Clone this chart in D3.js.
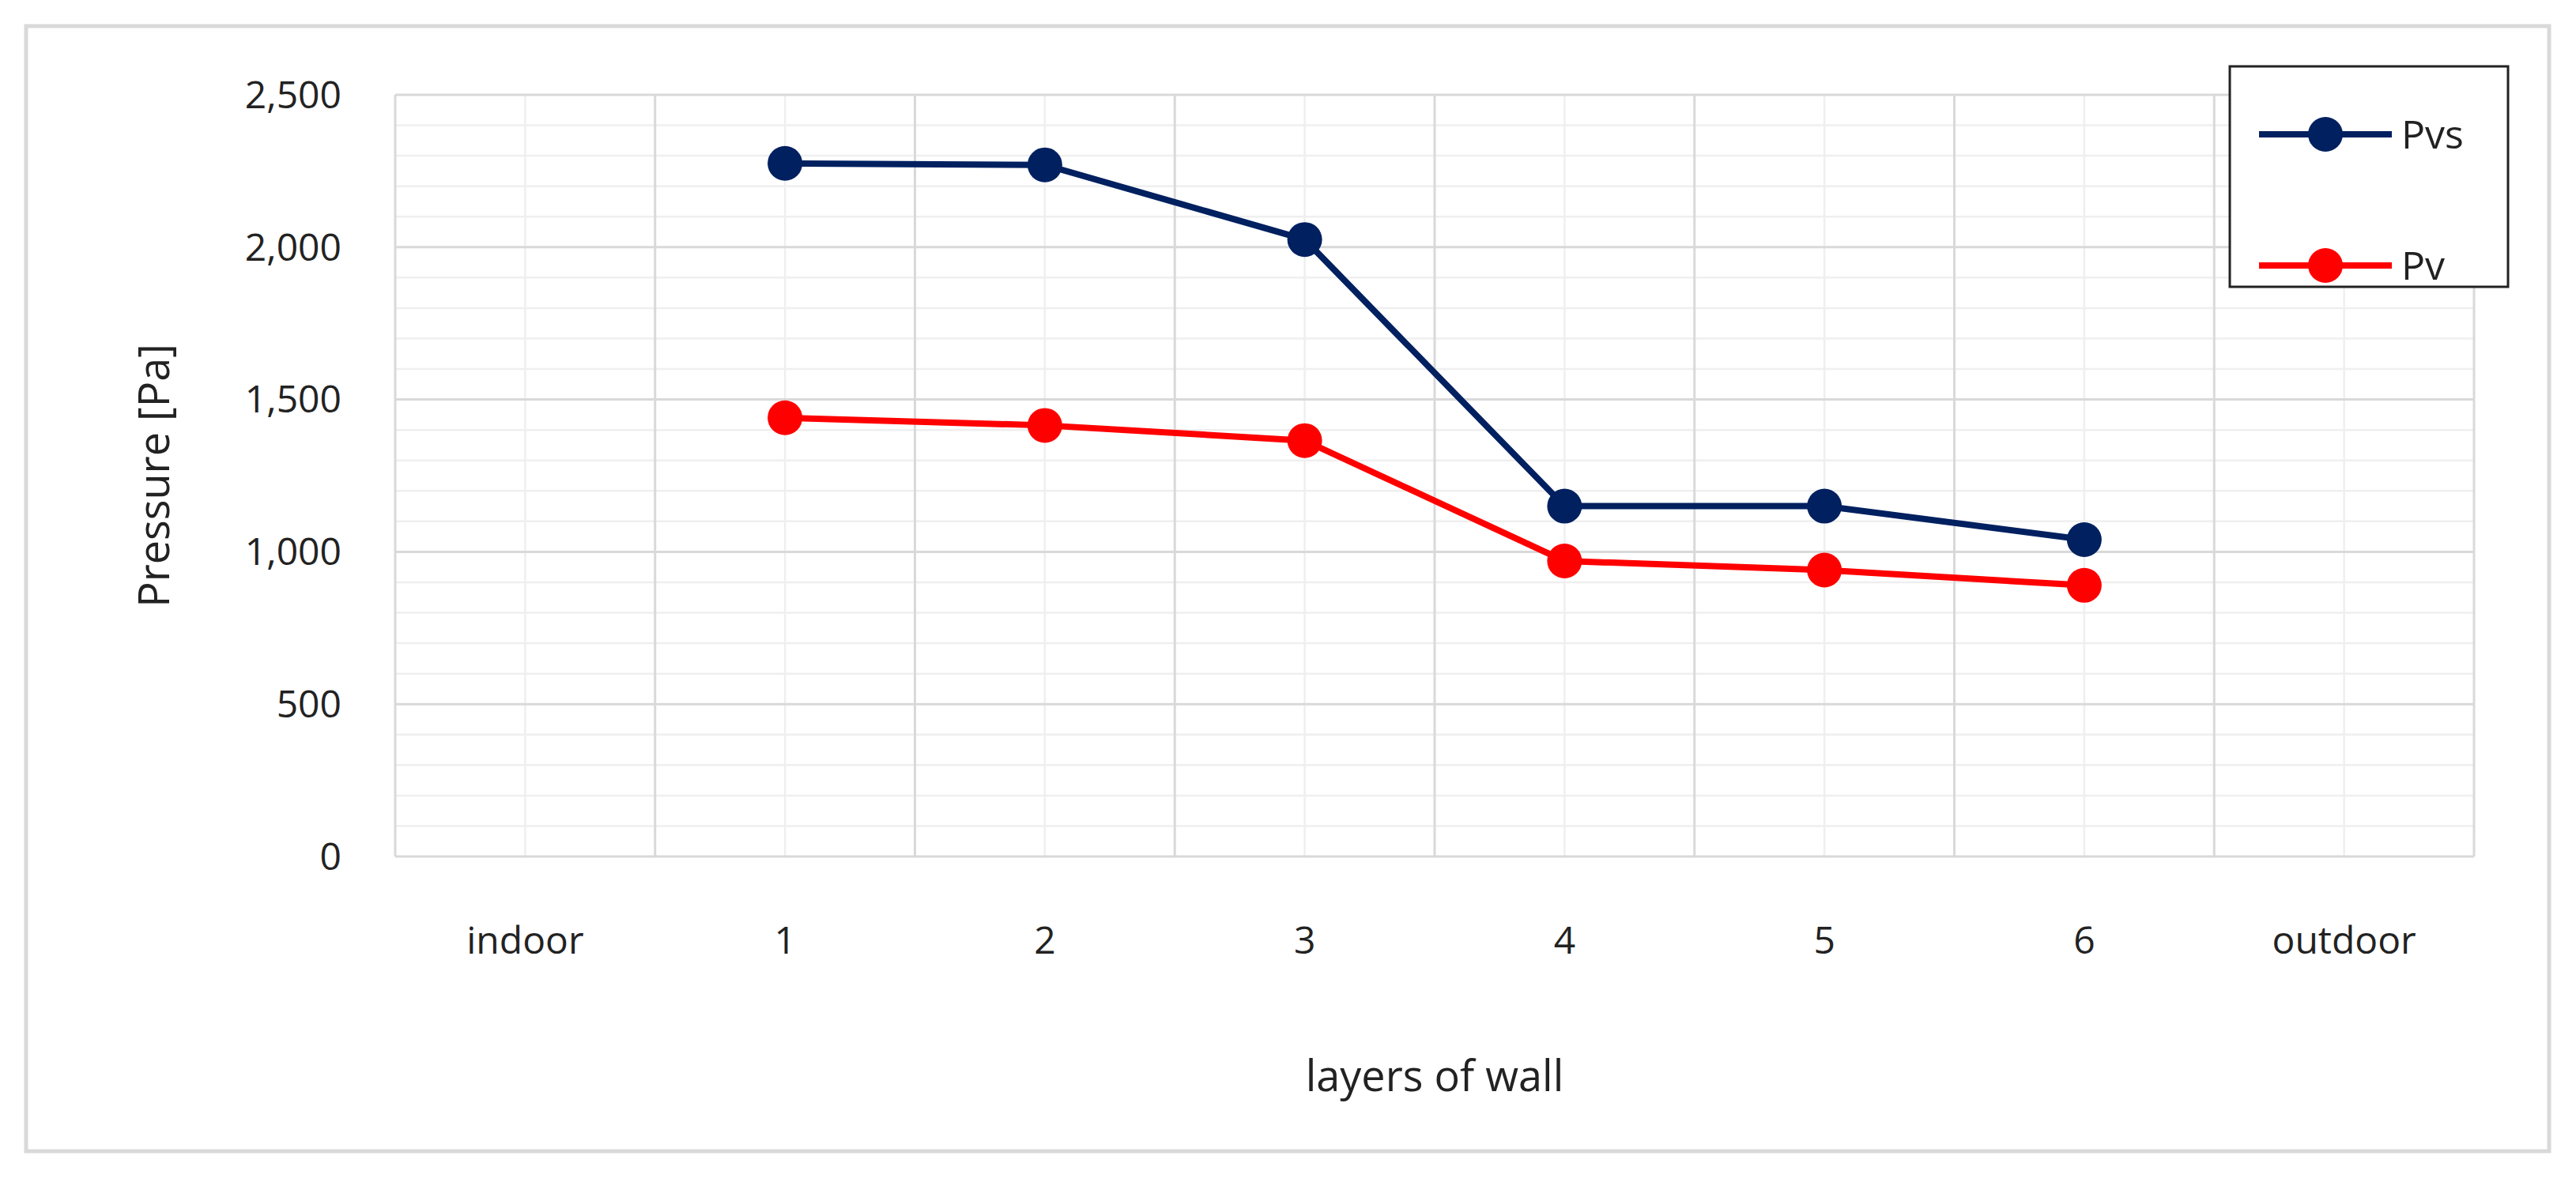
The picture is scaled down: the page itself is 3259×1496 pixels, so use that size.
<!DOCTYPE html>
<html lang="en">
<head>
  <meta charset="UTF-8">
  <script src="https://cdn.jsdelivr.net/npm/d3@7/dist/d3.min.js"></script>
  <style>
    body { margin: 0; background: #fff; }
    text { font-family: "Open Sans", sans-serif; fill: #222; }
  </style>
</head>
<body>
  <svg id="chart" width="3259" height="1496"></svg>
  <script>
    // data
    const categories = ["indoor", "1", "2", "3", "4", "5", "6", "outdoor"];
    const pvsValues = [null, 2275, 2270, 2025, 1150, 1150, 1040, null];
    const pvValues = [null, 1440, 1415, 1365, 970, 940, 890, null];
    const yTicks = [0, 500, 1000, 1500, 2000, 2500];

    const svg = d3.select("#chart");
    const plotLeft = 500, plotRight = 3130, plotTop = 120, plotBottom = 1084;

    // outer frame
    svg.append("rect").attr("x", 33).attr("y", 33).attr("width", 3192).attr("height", 1424)
      .attr("fill", "#fff").attr("stroke", "#d9d9d9").attr("stroke-width", 5);

    const x = d3.scaleBand().domain(categories).range([plotLeft, plotRight]);
    const y = d3.scaleLinear().domain([0, 2500]).range([plotBottom, plotTop]);

    const grid = svg.append("g");
    // minor horizontal lines
    grid.selectAll(".minor").data(d3.range(0, 2501, 100).filter(v => v % 500 != 0))
      .enter().append("line")
      .attr("x1", plotLeft).attr("x2", plotRight)
      .attr("y1", d => y(d)).attr("y2", d => y(d))
      .attr("stroke", "#efefef").attr("stroke-width", 2.5);
    // minor vertical lines at category centres
    grid.selectAll(".vminor").data(categories).enter().append("line")
      .attr("x1", d => x(d) + x.bandwidth() / 2).attr("x2", d => x(d) + x.bandwidth() / 2)
      .attr("y1", plotTop).attr("y2", plotBottom)
      .attr("stroke", "#efefef").attr("stroke-width", 2.5);
    // major horizontal lines
    grid.selectAll(".major").data(yTicks).enter().append("line")
      .attr("x1", plotLeft).attr("x2", plotRight)
      .attr("y1", d => y(d)).attr("y2", d => y(d))
      .attr("stroke", "#d9d9d9").attr("stroke-width", 3);
    // major vertical lines at band edges
    grid.selectAll(".vmajor").data(categories.concat(["end"])).enter().append("line")
      .attr("x1", (d, i) => plotLeft + i * x.bandwidth()).attr("x2", (d, i) => plotLeft + i * x.bandwidth())
      .attr("y1", plotTop).attr("y2", plotBottom)
      .attr("stroke", "#d9d9d9").attr("stroke-width", 3);

    // y tick labels
    svg.append("g").selectAll("text").data(yTicks).enter().append("text")
      .attr("x", 432).attr("y", d => y(d)).attr("dy", "0.35em")
      .attr("text-anchor", "end").attr("font-size", 48)
      .text(d => d3.format(",")(d));

    // x tick labels
    svg.append("g").selectAll("text").data(categories).enter().append("text")
      .attr("x", d => x(d) + x.bandwidth() / 2).attr("y", 1190).attr("dy", "0.35em")
      .attr("text-anchor", "middle").attr("font-size", 48)
      .text(d => d);

    // axis titles
    svg.append("text").attr("transform", "translate(195," + (plotTop + plotBottom) / 2 + ") rotate(-90)")
      .attr("text-anchor", "middle").attr("dy", "0.35em").attr("font-size", 54).text("Pressure [Pa]");
    svg.append("text").attr("x", (plotLeft + plotRight) / 2).attr("y", 1362).attr("dy", "0.35em")
      .attr("text-anchor", "middle").attr("font-size", 54).text("layers of wall");

    const series = [
      { name: "Pvs", values: pvsValues, color: "#002060" },
      { name: "Pv", values: pvValues, color: "#ff0000" }
    ];
    const line = d3.line()
      .defined(d => d.v != null)
      .x(d => x(d.c) + x.bandwidth() / 2).y(d => y(d.v));

    series.forEach(s => {
      const pts = categories.map((c, i) => ({ c: c, v: s.values[i] }));
      svg.append("path").datum(pts).attr("d", line)
        .attr("fill", "none").attr("stroke", s.color).attr("stroke-width", 8);
      svg.append("g").selectAll("circle").data(pts.filter(d => d.v != null)).enter()
        .append("circle")
        .attr("cx", d => x(d.c) + x.bandwidth() / 2).attr("cy", d => y(d.v))
        .attr("r", 22).attr("fill", s.color);
    });

    // legend
    const lg = svg.append("g");
    lg.append("rect").attr("x", 2821).attr("y", 84).attr("width", 352).attr("height", 279)
      .attr("fill", "#fff").attr("stroke", "#222").attr("stroke-width", 3);
    series.forEach((s, i) => {
      const ly = 170 + i * 166;
      lg.append("line").attr("x1", 2858).attr("x2", 3026).attr("y1", ly).attr("y2", ly)
        .attr("stroke", s.color).attr("stroke-width", 8);
      lg.append("circle").attr("cx", 2942).attr("cy", ly).attr("r", 22).attr("fill", s.color);
      lg.append("text").attr("x", 3038).attr("y", ly).attr("dy", "0.35em")
        .attr("font-size", 50).text(s.name);
    });
  </script>
</body>
</html>
